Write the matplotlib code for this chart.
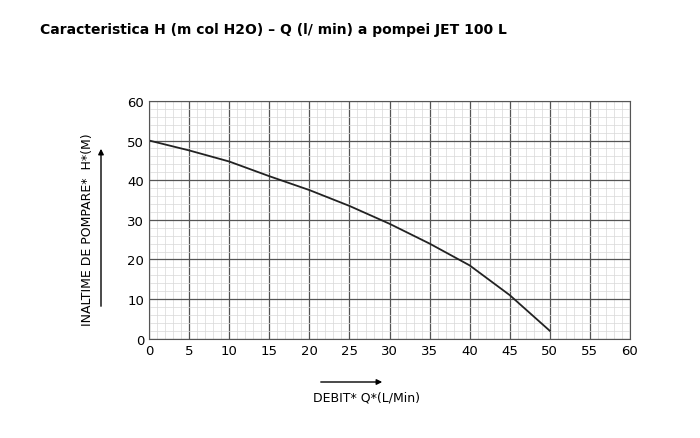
import matplotlib
matplotlib.use("Agg")
import matplotlib.pyplot as plt
import numpy as np

q = [0, 5, 10, 15, 20, 25, 30, 35, 40, 45, 50]
h = [50, 47.5, 44.7, 41, 37.5, 33.5, 29, 24, 18.5, 11, 2]
xticks = list(range(0, 61, 5))
yticks = list(range(0, 61, 10))

fig = plt.figure(figsize=(7, 4.39), dpi=100)
ax = fig.add_axes([0.213, 0.226, 0.687, 0.542])
ax.plot(q, h, color="#222222", lw=1.3)
ax.set_xlim(0, 60); ax.set_ylim(0, 60)
ax.set_xticks(xticks); ax.set_yticks(yticks)
ax.set_xticks(np.arange(0, 61, 1), minor=True)
ax.set_yticks(np.arange(0, 61, 2), minor=True)
ax.grid(which="major", color="#555555", lw=0.9)
ax.grid(which="minor", color="#d8d8d8", lw=0.5)
ax.tick_params(which="both", length=0, labelsize=9.5)
for s in ax.spines.values():
    s.set_color("#555555")
ax.set_axisbelow(True)

fig.text(40/700, 1-30/439, "Caracteristica H (m col H2O) – Q (l/ min) a pompei JET 100 L",
         fontsize=10, fontweight="bold", va="center", ha="left")
fig.text(88/700, 1-230/439, "INALTIME DE POMPARE*  H*(M)", rotation=90,
         fontsize=9, va="center", ha="center")
fig.text(367/700, 1-398/439, "DEBIT* Q*(L/Min)", fontsize=9, va="center", ha="center")
fig.add_artist(matplotlib.patches.FancyArrowPatch((101/700, 1-310/439), (101/700, 1-147/439),
    transform=fig.transFigure, arrowstyle="-|>", mutation_scale=8, color="black", lw=1))
fig.add_artist(matplotlib.patches.FancyArrowPatch((318/700, 1-383/439), (385/700, 1-383/439),
    transform=fig.transFigure, arrowstyle="-|>", mutation_scale=8, color="black", lw=1))
fig.savefig("out.png", dpi=100)
